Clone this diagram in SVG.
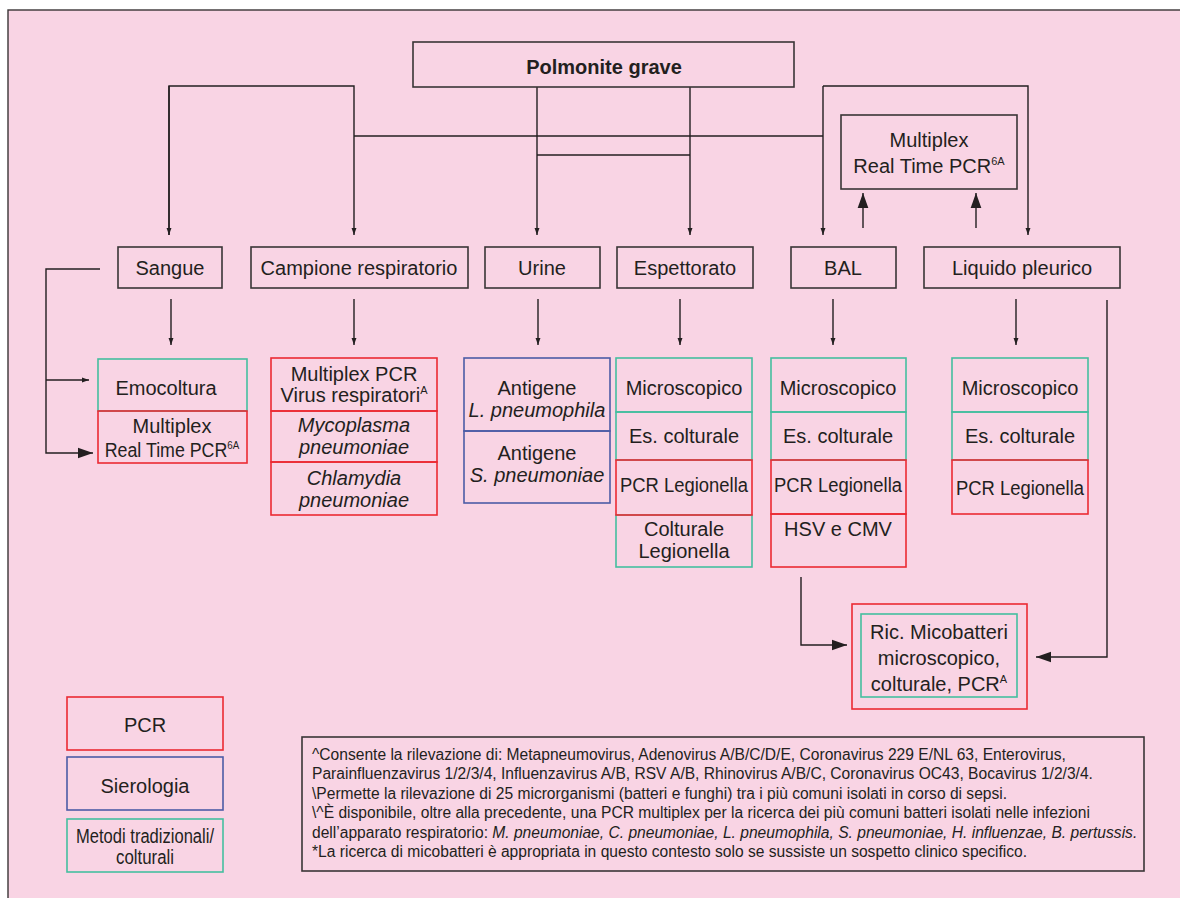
<svg xmlns="http://www.w3.org/2000/svg" width="1180" height="898" viewBox="0 0 1180 898">
<defs>
<marker id="ah" markerWidth="7" markerHeight="11" refX="10" refY="3.5" orient="auto" markerUnits="userSpaceOnUse" viewBox="0 0 10 7">
<path d="M0,0 L10,3.5 L0,7 z" fill="#231F20"/>
</marker>
<marker id="ahl" markerWidth="15" markerHeight="12" refX="14" refY="5" orient="auto" markerUnits="userSpaceOnUse" viewBox="0 0 14 10">
<path d="M0,0 L14,5 L0,10 z" fill="#231F20"/>
</marker>
<style>
text{font-family:"Liberation Sans",Arial,sans-serif;fill:#231F20;font-size:20px;text-anchor:middle}
.k{fill:none;stroke:#3A3536;stroke-width:1.6}
.r{fill:none;stroke:#EC2A33;stroke-width:1.6}
.g{fill:none;stroke:#45BE9F;stroke-width:1.6}
.b{fill:none;stroke:#4D5CA6;stroke-width:1.6}
.c{fill:none;stroke:#231F20;stroke-width:1.4}
.i{font-style:italic}
.s{font-size:11px}
.fn{font-size:15.6px;text-anchor:start}
</style>
</defs>
<rect x="8" y="10" width="1200" height="900" fill="#F9D4E4" stroke="#3A3536" stroke-width="1.4"/>

<g id="connectors">
<path class="c" d="M169,235 V86 H354 V235" marker-end="url(#ah)"/>
<path class="c" d="M169,86 V235" marker-end="url(#ah)"/>
<path class="c" d="M354,136 H823"/>
<path class="c" d="M537,87 V235" marker-end="url(#ah)"/>
<path class="c" d="M537,155 H690"/>
<path class="c" d="M690,87 V235" marker-end="url(#ah)"/>
<path class="c" d="M823,86 V235" marker-end="url(#ah)"/>
<path class="c" d="M823,86 H1028 V235" marker-end="url(#ah)"/>
<path class="c" d="M863,228 V193" marker-end="url(#ahl)"/>
<path class="c" d="M976,228 V193" marker-end="url(#ahl)"/>
<path class="c" d="M171,299 V345" marker-end="url(#ah)"/>
<path class="c" d="M354,299 V345" marker-end="url(#ah)"/>
<path class="c" d="M538,299 V345" marker-end="url(#ah)"/>
<path class="c" d="M680,299 V345" marker-end="url(#ah)"/>
<path class="c" d="M833,299 V345" marker-end="url(#ah)"/>
<path class="c" d="M1016,299 V345" marker-end="url(#ah)"/>
<path class="c" d="M100,269 H46 V453 H93" marker-end="url(#ahl)"/>
<path class="c" d="M46,380 H89" marker-end="url(#ah)"/>
<path class="c" d="M1107,300 V657 H1036" marker-end="url(#ahl)"/>
<path class="c" d="M801,577 V645 H847" marker-end="url(#ahl)"/>
</g>

<g id="title">
<rect class="k" x="413" y="42" width="381" height="45"/>
<text x="604" y="74" font-weight="bold" font-size="23">Polmonite grave</text>
</g>

<g id="multiplex-top">
<rect class="k" x="841" y="115" width="176" height="74"/>
<text x="929" y="147">Multiplex</text>
<text x="929" y="173">Real Time PCR<tspan class="s" dy="-8">6A</tspan></text>
</g>

<g id="sangue"><rect class="k" x="118" y="247" width="104" height="41"/><text x="170" y="275">Sangue</text></g>
<g id="campione"><rect class="k" x="251" y="247" width="217" height="41"/><text x="359" y="275">Campione respiratorio</text></g>
<g id="urine"><rect class="k" x="485" y="247" width="115" height="41"/><text x="542" y="275">Urine</text></g>
<g id="espettorato"><rect class="k" x="617" y="247" width="136" height="41"/><text x="685" y="275">Espettorato</text></g>
<g id="bal"><rect class="k" x="791" y="247" width="105" height="41"/><text x="843" y="275">BAL</text></g>
<g id="liquido"><rect class="k" x="924" y="247" width="196" height="41"/><text x="1022" y="275" font-size="19">Liquido pleurico</text></g>

<g id="sangue-tests">
<rect class="g" x="98" y="359" width="149" height="52"/>
<text x="166" y="395">Emocoltura</text>
<rect class="r" x="98" y="411" width="149" height="52"/>
<text x="172" y="433">Multiplex</text>
<text transform="translate(172,457) scale(0.89,1)" x="0" y="0">Real Time PCR<tspan class="s" dy="-8">6A</tspan></text>
</g>

<g id="campione-tests">
<rect class="r" x="271" y="358" width="166" height="53"/>
<rect class="r" x="271" y="411" width="166" height="51"/>
<rect class="r" x="271" y="462" width="166" height="53"/>
<text x="354" y="381" font-size="19">Multiplex PCR</text>
<text x="354" y="402" font-size="19">Virus respiratori<tspan class="s" dy="-8">A</tspan></text>
<text x="354" y="432" class="i" font-size="19">Mycoplasma</text>
<text x="354" y="454" class="i" font-size="19">pneumoniae</text>
<text x="354" y="485" class="i" font-size="19">Chlamydia</text>
<text x="354" y="507" class="i" font-size="19">pneumoniae</text>
</g>

<g id="urine-tests">
<rect class="b" x="464" y="358" width="146" height="73"/>
<rect class="b" x="464" y="431" width="146" height="72"/>
<text x="537" y="395">Antigene</text>
<text x="537" y="417" class="i" font-size="19">L. pneumophila</text>
<text x="537" y="460">Antigene</text>
<text x="537" y="482" class="i" font-size="19">S. pneumoniae</text>
</g>

<g id="espettorato-tests">
<rect class="g" x="616" y="358" width="136" height="54"/>
<rect class="g" x="616" y="412" width="136" height="48"/>
<rect class="g" x="616" y="515" width="136" height="52"/>
<rect class="r" x="616" y="460" width="136" height="55"/>
<text x="684" y="395">Microscopico</text>
<text x="684" y="443">Es. colturale</text>
<text x="684" y="492" textLength="128" lengthAdjust="spacingAndGlyphs">PCR Legionella</text>
<text x="684" y="536">Colturale</text>
<text x="684" y="558">Legionella</text>
</g>

<g id="bal-tests">
<rect class="g" x="771" y="358" width="135" height="54"/>
<rect class="g" x="771" y="412" width="135" height="48"/>
<rect class="r" x="771" y="514" width="135" height="53"/>
<rect class="r" x="771" y="460" width="135" height="54"/>
<text x="838" y="395">Microscopico</text>
<text x="838" y="443">Es. colturale</text>
<text x="838" y="492" textLength="128" lengthAdjust="spacingAndGlyphs">PCR Legionella</text>
<text x="838" y="536">HSV e CMV</text>
</g>

<g id="liquido-tests">
<rect class="g" x="952" y="358" width="136" height="54"/>
<rect class="g" x="952" y="412" width="136" height="48"/>
<rect class="r" x="952" y="460" width="136" height="54"/>
<text x="1020" y="395">Microscopico</text>
<text x="1020" y="443">Es. colturale</text>
<text x="1020" y="495" textLength="128" lengthAdjust="spacingAndGlyphs">PCR Legionella</text>
</g>

<g id="micobatteri">
<rect class="r" x="852" y="604" width="175" height="105"/>
<rect class="g" x="861" y="614" width="156" height="83"/>
<text x="939" y="639" font-size="19">Ric. Micobatteri</text>
<text x="939" y="665" font-size="19">microscopico,</text>
<text x="939" y="691" font-size="19">colturale, PCR<tspan class="s" dy="-8">A</tspan></text>
</g>

<g id="legend-pcr"><rect class="r" x="67" y="697" width="156" height="53"/><text x="145" y="732">PCR</text></g>
<g id="legend-sierologia"><rect class="b" x="67" y="757" width="156" height="53"/><text x="145" y="793">Sierologia</text></g>
<g id="legend-metodi"><rect class="g" x="67" y="819" width="156" height="53"/><text x="145" y="843" font-size="19" textLength="138" lengthAdjust="spacingAndGlyphs">Metodi tradizionali/</text><text x="145" y="864" font-size="19" textLength="58" lengthAdjust="spacingAndGlyphs">colturali</text></g>

<g id="footnotes">
<rect class="k" x="302" y="737" width="842" height="134"/>
<text class="fn" x="312" y="760">^Consente la rilevazione di: Metapneumovirus, Adenovirus A/B/C/D/E, Coronavirus 229 E/NL 63, Enterovirus,</text>
<text class="fn" x="312" y="779">Parainfluenzavirus 1/2/3/4, Influenzavirus A/B, RSV A/B, Rhinovirus A/B/C, Coronavirus OC43, Bocavirus 1/2/3/4.</text>
<text class="fn" x="312" y="799">\Permette la rilevazione di 25 microrganismi (batteri e funghi) tra i più comuni isolati in corso di sepsi.</text>
<text class="fn" x="312" y="818">\^È disponibile, oltre alla precedente, una PCR multiplex per la ricerca dei più comuni batteri isolati nelle infezioni</text>
<text class="fn" x="312" y="838">dell’apparato respiratorio: <tspan class="i">M. pneumoniae, C. pneumoniae, L. pneumophila, S. pneumoniae, H. influenzae, B. pertussis.</tspan></text>
<text class="fn" x="312" y="857">*La ricerca di micobatteri è appropriata in questo contesto solo se sussiste un sospetto clinico specifico.</text>
</g>
</svg>
